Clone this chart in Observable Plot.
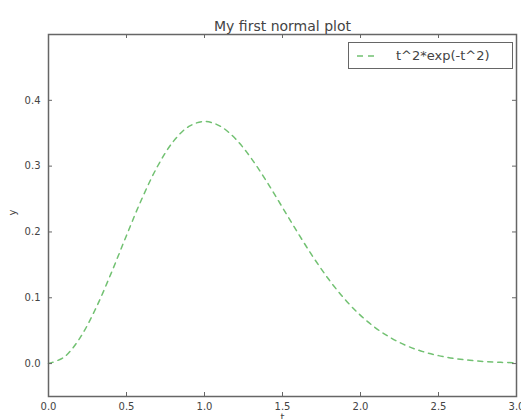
<!DOCTYPE html>
<html>
<head>
<meta charset="utf-8">
<script src="https://cdn.jsdelivr.net/npm/d3@7"></script>
<script src="https://cdn.jsdelivr.net/npm/@observablehq/plot@0.6"></script>
<style>
  html, body { margin: 0; padding: 0; background: #fff; }
  #wrap { position: relative; width: 521px; height: 419px; font-family: "DejaVu Sans", sans-serif; }
  #legend { position: absolute; left: 348px; top: 42px; width: 163px; height: 25px; border: 1px solid #666; background: #fff; display: flex; align-items: center; }
  #legend span { font-size: 13px; color: #444; margin-left: 15px; white-space: nowrap; }
</style>
</head>
<body>
<div id="wrap"></div>
<script>
const title = "My first normal plot";
const xLabel = "t";
const yLabel = "y";
const seriesName = "t^2*exp(-t^2)";
const tValues = [0.0,0.1,0.2,0.3,0.4,0.5,0.6,0.7,0.8,0.9,1.0,1.1,1.2,1.3,1.4,1.5,1.6,1.7,1.8,1.9,2.0,2.1,2.2,2.3,2.4,2.5,2.6,2.7,2.8,2.9,3.0];
const yValues = [0.0,0.0099,0.0384,0.0823,0.1363,0.1947,0.2512,0.3002,0.3375,0.3603,0.3679,0.3608,0.3412,0.3118,0.2761,0.2371,0.1979,0.1606,0.1269,0.0976,0.0733,0.0536,0.0383,0.0267,0.0182,0.0121,0.0078,0.0050,0.0031,0.0019,0.0011];
const xTicks = [0.0,0.5,1.0,1.5,2.0,2.5,3.0];
const yTicks = [0.0,0.1,0.2,0.3,0.4];

const data = tValues.map((t, i) => ({t, y: yValues[i]}));
const lineColor = "#72c172";
const axisColor = "#666";
const textColor = "#444";
const fmt = d => d.toFixed(1);

const W = 521, H = 419, mt = 34, mb = 23, ml = 48, mr = 5;
const fw = W - ml - mr, fh = H - mt - mb, tk = 4;

const chart = Plot.plot({
  width: W, height: H,
  marginTop: mt, marginBottom: mb, marginLeft: ml, marginRight: mr,
  style: {fontFamily: "DejaVu Sans, sans-serif", fontSize: "10px", color: textColor, background: "#fff"},
  x: {domain: [0, 3]},
  y: {domain: [-0.05, 0.5]},
  marks: [
    Plot.line(data, {x: "t", y: "y", stroke: lineColor, strokeWidth: 1.5, strokeDasharray: "5,5", curve: "catmull-rom"}),
    Plot.tickX(xTicks, {x: d => d, stroke: axisColor, insetTop: fh - tk}),
    Plot.tickX(xTicks, {x: d => d, stroke: axisColor, insetBottom: fh - tk}),
    Plot.tickY(yTicks, {y: d => d, stroke: axisColor, insetRight: fw - tk}),
    Plot.tickY(yTicks, {y: d => d, stroke: axisColor, insetLeft: fw - tk}),
    Plot.axisX(xTicks, {anchor: "bottom", tickSize: 0, tickPadding: 6, tickFormat: fmt, label: null, fill: textColor}),
    Plot.axisY(yTicks, {anchor: "left", tickSize: 0, tickPadding: 8, tickFormat: fmt, label: null, fill: textColor}),
    Plot.frame({stroke: axisColor, strokeWidth: 1.5}),
    Plot.text([title], {frameAnchor: "top", dy: -13, text: d => d, fontSize: 14, fill: textColor}),
    Plot.text([xLabel], {frameAnchor: "bottom", dy: 24, text: d => d, fontSize: 10, fill: textColor}),
    Plot.text([yLabel], {frameAnchor: "left", dx: -36, rotate: -90, text: d => d, fontSize: 10, fill: textColor})
  ]
});

const wrap = document.getElementById("wrap");
wrap.appendChild(chart);

const legend = document.createElement("div");
legend.id = "legend";
legend.innerHTML = `<svg width="24" height="10" style="margin-left:8px"><line x1="0" y1="5" x2="22" y2="5" stroke="${lineColor}" stroke-width="1.5" stroke-dasharray="6,5"/></svg><span></span>`;
legend.querySelector("span").textContent = seriesName;
wrap.appendChild(legend);
</script>
</body>
</html>
